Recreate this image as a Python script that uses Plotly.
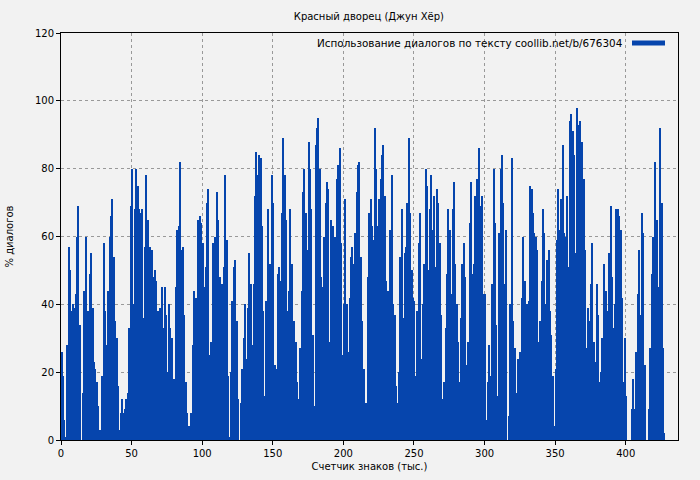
import plotly.graph_objects as go

seg1 = [26,19,6,1,28,57,50,38,40,39,43,60,69,34,0,14,44,60,38,38,49,55,39,23,21,17,10,3,2,19,
        58,38,28,44,60,66,71,54,35,30,16,3,8,12,8,9,12,14,33,69,80,40,68,80,75,68,67,68,36,57,
        78,65,56,57,56,48,50,47,38,16,39,45,33,45,37,20,40,33,30,15,18,45,62,63,82,56,57,37,17,8,
        4,1,8,28,44,42,33,65,66,64,58,45,51,70,74,25,29,58,36]
seg2 = [60,73,65,48,30,46,51,78,59,19,1,20,41,51,53,35,12,0,11,21,30,40,24,39,55,46,28,46,72,
        85,78,84,83,63,38,13,41,68,29,52,78,70,22,21,49,51,47,67,89,78,65,38,44,68,52,33,35,29,
        17,12,27,44,73,80,67,56,88,80,68,31,10,87,92,95,80,48,45,60,70,76,74,29,65,63,50,60,77,81,
        86,58,25,40,71,40,26,42,54,57,52,61,73,81,82,54,35,21,6,11,48,67]
seg3 = [71,63,59,92,80,63,71,77,84,87,72,47,44,23,62,78,40,37,16,11,20,54,68,36,55,57,70,89,67,
        50,42,41,19,38,58,67,24,40,52,80,75,50,68,78,62,72,51,74,70,58,37,12,17,33,49,68,62,43,68,
        76,52,40,29,17,36,52,58,48,22,29,64,76,49,52,72,77,59,86,69,72,43,43,6,17,28,19,46,80,
        64,34,13,61,80,84,70,46,62,0,7,40,83,35,27,14,24,23,26,42]
seg4 = [60,47,24,40,41,75,74,67,61,60,56,29,35,47,68,61,40,53,56,38,31,19,4,21,59,74,62,71,87,61,
        60,72,51,94,96,91,84,55,98,93,94,87,88,77,56,27,39,35,46,58,29,23,46,37,17,20,30,52,29,44,
        38,55,69,48,33,40,68,68,66,62,42,17,30,13,0,0,0,9,18,9,26,43,56,37,67,61,22,0,0,
        9,27,49,60,82,59,65,45,92,70,27,2]
values = seg1 + seg2 + seg3 + seg4
x_k = [i + 0.5 for i in range(len(values))]

title = "Красный дворец (Джун Хёр)"
legend_text = "Использование диалогов по тексту coollib.net/b/676304"
x_label = "Счетчик знаков (тыс.)"
y_label = "% диалогов"
blue = "#0645ad"

fig = go.Figure(go.Bar(x=x_k, y=values, width=1.0, marker=dict(color=blue, line=dict(width=0)),
                       showlegend=False, hoverinfo="skip"))

L, R, T, B = 61, 678, 33, 440
def px(x): return (x - L) / (R - L)
def py(y): return (B - y) / (B - T)

axis = dict(showline=True, linecolor="black", linewidth=1, mirror=True, ticks="outside",
            ticklen=4, tickcolor="black", showgrid=True, gridcolor="#999999", griddash="dot",
            gridwidth=1, zeroline=False, tickfont=dict(size=10, color="black"), automargin=False)
fig.update_layout(
    width=700, height=480, paper_bgcolor="#f2f2f2", plot_bgcolor="#f2f2f2",
    margin=dict(l=L, r=700 - R, t=T, b=480 - B, autoexpand=False),
    font=dict(family="DejaVu Sans", size=10, color="black"),
    bargap=0,
    title=dict(text=title, x=0.527, xanchor="center", y=0.965, yanchor="middle", font=dict(size=10)),
    xaxis=dict(axis, range=[0, 437], tickvals=[0, 50, 100, 150, 200, 250, 300, 350, 400],
               title=dict(text=x_label, font=dict(size=10), standoff=4)),
    yaxis=dict(axis, range=[0, 120], tickvals=[0, 20, 40, 60, 80, 100, 120],
               title=dict(text=y_label, font=dict(size=10), standoff=19)),
    annotations=[dict(text=legend_text, xref="paper", yref="paper", x=px(625), y=py(43),
                      xanchor="right", yanchor="middle", showarrow=False, font=dict(size=10.4))],
    shapes=[dict(type="line", xref="paper", yref="paper", x0=px(632), x1=px(665), y0=py(43), y1=py(43),
                 line=dict(color=blue, width=5))],
)
fig.write_html("out.html", config={"displayModeBar": False})
with open("out.html", encoding="utf-8") as f:
    html = f.read()
html = html.replace("<head>", "<head><style>html,body{margin:0;padding:0;background:#f2f2f2;}</style>", 1)
with open("out.html", "w", encoding="utf-8") as f:
    f.write(html)
